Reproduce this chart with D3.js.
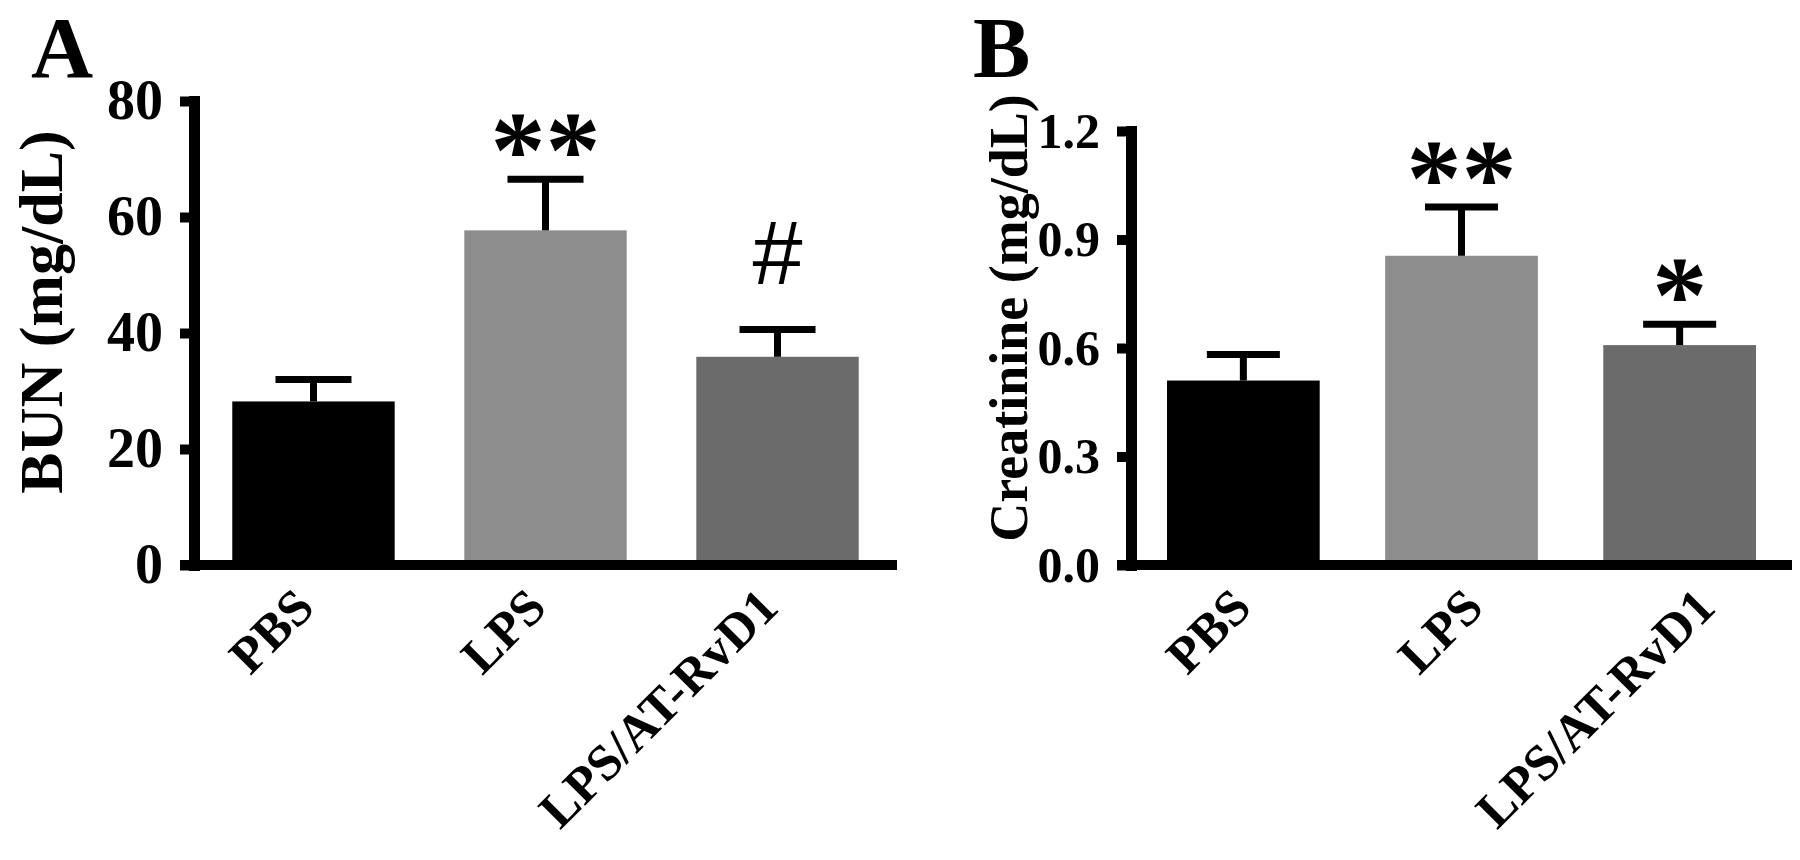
<!DOCTYPE html>
<html>
<head>
<meta charset="utf-8">
<title>BUN and creatinine</title>
<style>
  body { margin: 0; background: #fff; }
  svg text { font-family: "Liberation Serif", "Times New Roman", serif; font-weight: bold; fill: #000; }
  .axis .domain { stroke: #000; stroke-width: 11; stroke-linecap: square; }
  .axis .tick line { stroke: #000; stroke-width: 10; }
  .err { stroke: #000; stroke-width: 7; }
  .xline { stroke: #000; stroke-width: 10; }
</style>
</head>
<body>
<svg class="chart" width="1800" height="860"></svg>
<script src="https://cdnjs.cloudflare.com/ajax/libs/d3/7.8.5/d3.min.js"></script>
<script>
// groups and bar fills
var groups = ["PBS", "LPS", "LPS/AT-RvD1"];
var barColors = ["#000000", "#8d8d8d", "#6b6b6b"];

// panel A: BUN
var bunMean = [28.2, 57.7, 35.9];
var bunSem = [3.8, 8.8, 4.7];
var bunMarks = ["", "**", "#"];
var bunTicks = [0, 20, 40, 60, 80];

// panel B: creatinine
var creMean = [0.51, 0.855, 0.608];
var creSem = [0.072, 0.135, 0.058];
var creMarks = ["", "**", "*"];
var creTicks = [0, 0.3, 0.6, 0.9, 1.2];

var svg = d3.select('.chart');

function drawPanel(p) {
    var y = d3.scaleLinear()
        .domain([0, p.ticks[p.ticks.length - 1]])
        .range([565, p.yTop]);

    var x = d3.scaleBand()
        .domain(groups)
        .range([p.axisX, p.xEnd])
        .paddingInner(0.3)
        .paddingOuter(0.165);

    // labels sit on a slightly wider grid than the bars in panel B
    var xl = d3.scaleBand()
        .domain(groups)
        .range([p.axisX, p.axisX + 703])
        .paddingInner(0.3)
        .paddingOuter(0.165);

    var g = svg.append('g');

    g.selectAll('rect.bar')
        .data(p.mean)
        .enter()
        .append('rect')
        .attr('class', 'bar')
        .attr('x', function(d, i) { return x(groups[i]); })
        .attr('width', x.bandwidth())
        .attr('y', function(d) { return y(d); })
        .attr('height', function(d) { return y(0) - y(d); })
        .style('fill', function(d, i) { return barColors[i]; });

    var cx = function(i) { return x(groups[i]) + x.bandwidth() / 2; };

    // error bars (upper only)
    g.selectAll('line.errv')
        .data(p.mean)
        .enter()
        .append('line')
        .attr('class', 'err')
        .attr('x1', function(d, i) { return cx(i); })
        .attr('x2', function(d, i) { return cx(i); })
        .attr('y1', function(d) { return y(d); })
        .attr('y2', function(d, i) { return y(d + p.sem[i]); });

    g.selectAll('line.errc')
        .data(p.mean)
        .enter()
        .append('line')
        .attr('class', 'err')
        .attr('x1', function(d, i) { return cx(i) - p.cap / 2; })
        .attr('x2', function(d, i) { return cx(i) + p.cap / 2; })
        .attr('y1', function(d, i) { return y(d + p.sem[i]); })
        .attr('y2', function(d, i) { return y(d + p.sem[i]); });

    // significance marks
    g.selectAll('text.mark')
        .data(p.marks)
        .enter()
        .append('text')
        .attr('class', 'mark')
        .attr('text-anchor', 'middle')
        .attr('x', function(d, i) { return cx(i); })
        .attr('y', function(d, i) {
            var top = y(p.mean[i] + p.sem[i]);
            return d === '#' ? top - 46 : top + 8;
        })
        .style('font-family', function(d) { return d === '#' ? '"Liberation Sans", Arial, sans-serif' : null; })
        .style('font-weight', function(d) { return d === '#' ? 'normal' : 'bold'; })
        .style('font-size', function(d) { return d === '#' ? '90px' : '110px'; })
        .text(function(d) { return d; });

    // y axis
    var yAxis = d3.axisLeft(y)
        .tickValues(p.ticks)
        .tickFormat(p.format)
        .tickSize(14)
        .tickSizeOuter(0)
        .tickPadding(17);

    var ax = g.append('g')
        .attr('class', 'axis')
        .attr('transform', 'translate(' + p.axisX + ',0)')
        .call(yAxis);
    ax.selectAll('text')
        .style('font-size', p.tickFont + 'px')
        .style('font-family', '"Liberation Serif", serif')
        .style('font-weight', 'bold');

    // x axis line
    g.append('line')
        .attr('class', 'xline')
        .attr('x1', p.axisX - 14)
        .attr('x2', p.xEnd)
        .attr('y1', y(0))
        .attr('y2', y(0));

    // category labels
    g.selectAll('text.cat')
        .data(groups)
        .enter()
        .append('text')
        .attr('class', 'cat')
        .attr('text-anchor', 'end')
        .style('font-size', '51px')
        .attr('transform', function(d) {
            return 'translate(' + (xl(d) + xl.bandwidth() / 2 + 3) + ',610) rotate(-45)';
        })
        .text(function(d) { return d; });

    // y title
    g.append('text')
        .attr('text-anchor', 'middle')
        .style('font-size', p.titleFont + 'px')
        .attr('transform', 'translate(' + p.titleX + ',' + p.titleY + ') rotate(-90)')
        .text(p.title);

    // panel letter
    g.append('text')
        .style('font-size', '86px')
        .attr('x', p.letterX)
        .attr('y', 77)
        .text(p.letter);
}

drawPanel({
    letter: 'A', letterX: 31,
    axisX: 194, xEnd: 897, yTop: 101,
    ticks: bunTicks, format: d3.format('d'), tickFont: 56,
    title: 'BUN (mg/dL)', titleX: 62, titleY: 312, titleFont: 62,
    mean: bunMean, sem: bunSem, marks: bunMarks, cap: 76
});

drawPanel({
    letter: 'B', letterX: 973,
    axisX: 1131, xEnd: 1792, yTop: 131,
    ticks: creTicks, format: d3.format('.1f'), tickFont: 50,
    title: 'Creatinine (mg/dL)', titleX: 1027, titleY: 318, titleFont: 54,
    mean: creMean, sem: creSem, marks: creMarks, cap: 73
});
</script>
</body>
</html>
